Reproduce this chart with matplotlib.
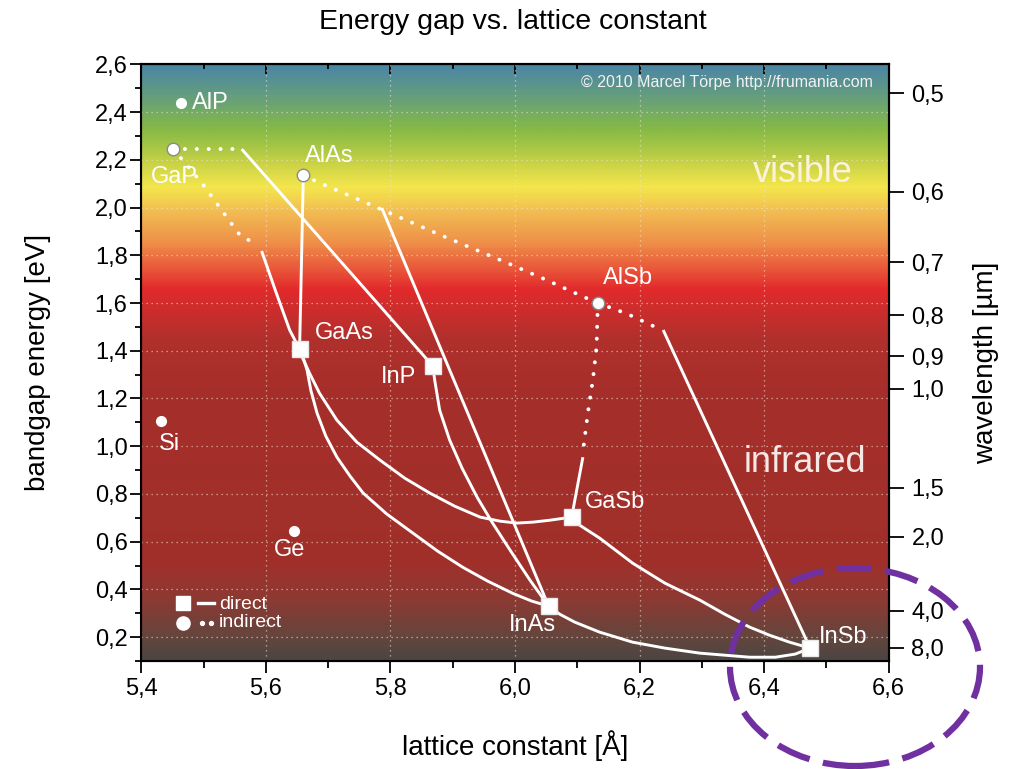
import numpy as np
import matplotlib
matplotlib.use("Agg")
import matplotlib.pyplot as plt
from matplotlib.colors import LinearSegmentedColormap
from matplotlib.patches import Ellipse
from matplotlib.ticker import FuncFormatter, MultipleLocator, NullFormatter

plt.rcParams['font.family'] = ['Liberation Sans', 'DejaVu Sans']

# binary compounds: lattice constant [A], band gap [eV]
names = ["AlP", "GaP", "AlAs", "GaAs", "InP", "AlSb", "GaSb", "InAs", "InSb", "Si", "Ge"]
a_const = [5.463, 5.451, 5.660, 5.654, 5.868, 6.133, 6.091, 6.054, 6.474, 5.431, 5.645]
e_gap = [2.44, 2.245, 2.136, 1.407, 1.336, 1.600, 0.703, 0.330, 0.154, 1.105, 0.644]
direct = [False, False, False, True, True, False, True, True, True, False, False]

# ternary alloys (solid = direct, dotted = indirect)
gainp_ind_x = [5.451, 5.555]
gainp_ind_y = [2.245, 2.245]
gainp_x = [5.561, 5.868]
gainp_y = [2.245, 1.336]

gaasp_ind_x = [5.451, 5.497, 5.558, 5.585]
gaasp_ind_y = [2.245, 2.103, 1.885, 1.845]
gaasp_x = [5.593, 5.616, 5.638, 5.654]
gaasp_y = [1.818, 1.646, 1.487, 1.407]

algaas_x = [5.660, 5.654]
algaas_y = [2.136, 1.407]

alassb_ind_x = [5.660, 5.683, 5.751, 5.884, 5.984, 6.051, 6.104, 6.133]
alassb_ind_y = [2.136, 2.107, 2.031, 1.881, 1.772, 1.696, 1.633, 1.600]

alinsb_ind_x = [6.133, 6.18, 6.225]
alinsb_ind_y = [1.600, 1.555, 1.500]
alinsb_x = [6.238, 6.474]
alinsb_y = [1.487, 0.154]

algasb_ind_x = [6.133, 6.131, 6.125, 6.117, 6.109]
algasb_ind_y = [1.600, 1.415, 1.277, 1.139, 0.975]
algasb_x = [6.109, 6.091]
algasb_y = [0.954, 0.703]

gaassb_x = [5.654, 5.659, 5.670, 5.686, 5.714, 5.746, 5.783, 5.823, 5.863, 5.903,
            5.944, 5.976, 6.003, 6.029, 6.056, 6.091]
gaassb_y = [1.407, 1.369, 1.306, 1.222, 1.109, 1.017, 0.942, 0.866, 0.804, 0.749,
            0.703, 0.686, 0.678, 0.682, 0.690, 0.703]

ingaas_x = [5.654, 5.661, 5.666, 5.672, 5.682, 5.696, 5.714, 5.735, 5.756, 5.794,
            5.836, 5.876, 5.916, 5.956, 5.996, 6.027, 6.054]
ingaas_y = [1.407, 1.361, 1.319, 1.235, 1.139, 1.043, 0.954, 0.875, 0.804, 0.716,
            0.636, 0.560, 0.493, 0.435, 0.384, 0.351, 0.330]

inasp_x = [5.868, 5.871, 5.879, 5.895, 5.915, 5.939, 5.963, 5.992, 6.024, 6.054]
inasp_y = [1.336, 1.277, 1.151, 1.026, 0.908, 0.787, 0.682, 0.565, 0.439, 0.330]

alinas_x = [5.786, 6.054]
alinas_y = [1.998, 0.330]

inassb_x = [6.054, 6.072, 6.096, 6.136, 6.189, 6.241, 6.297, 6.377, 6.418, 6.450, 6.474]
inassb_y = [0.330, 0.296, 0.263, 0.221, 0.179, 0.154, 0.133, 0.116, 0.116, 0.129, 0.154]

gainsb_x = [6.091, 6.104, 6.136, 6.189, 6.241, 6.297, 6.337, 6.377, 6.409, 6.441, 6.474]
gainsb_y = [0.703, 0.669, 0.615, 0.510, 0.426, 0.355, 0.296, 0.242, 0.208, 0.179, 0.154]

wl_ticks = [0.5, 0.6, 0.7, 0.8, 0.9, 1.0, 1.5, 2.0, 4.0, 8.0]

# background spectrum colours along the energy axis
bg_nodes = [
    (0.10, "#4b4643"), (0.20, "#66453d"), (0.35, "#8c3a33"), (0.50, "#a0302b"),
    (1.20, "#a52e2a"), (1.45, "#b0302c"), (1.58, "#cf2d2d"), (1.66, "#e2292b"),
    (1.74, "#e9553a"), (1.85, "#ee8d48"), (1.98, "#f2bb52"), (2.09, "#f4e64c"),
    (2.20, "#c4d045"), (2.33, "#86ba45"), (2.45, "#6aa276"), (2.60, "#4a85a6"),
]
cmap = LinearSegmentedColormap.from_list(
    "spec", [((e - 0.1) / 2.5, c) for e, c in bg_nodes])

fig = plt.figure(figsize=(10.17, 7.69), dpi=100)
ax = fig.add_axes([0.1391, 0.1404, 0.7346, 0.7759])

grad = np.linspace(0.1, 2.6, 500).reshape(-1, 1)
ax.imshow(grad, extent=[5.4, 6.6, 0.1, 2.6], origin="lower", aspect="auto",
          cmap=cmap, vmin=0.1, vmax=2.6, zorder=0)

ax.set_xlim(5.4, 6.6)
ax.set_ylim(0.1, 2.6)

for gx in np.arange(5.6, 6.5, 0.2):
    ax.axvline(gx, color="#f3e6d8", lw=0.9, ls=(0, (1, 3)), alpha=0.7, zorder=1)
for gy in np.arange(0.2, 2.5, 0.2):
    ax.axhline(gy, color="#f3e6d8", lw=0.9, ls=(0, (1, 3)), alpha=0.7, zorder=1)

solid = dict(color="white", lw=2.1, zorder=3, solid_capstyle="butt", solid_joinstyle="round")
dotted = dict(color="white", lw=2.8, ls=(0, (0.05, 3.0)), dash_capstyle="round", zorder=3)

for xs, ys in [(gainp_x, gainp_y), (gaasp_x, gaasp_y), (algaas_x, algaas_y),
               (alinsb_x, alinsb_y), (algasb_x, algasb_y), (gaassb_x, gaassb_y),
               (ingaas_x, ingaas_y), (inasp_x, inasp_y), (alinas_x, alinas_y),
               (inassb_x, inassb_y), (gainsb_x, gainsb_y)]:
    ax.plot(xs, ys, **solid)
for xs, ys in [(gainp_ind_x, gainp_ind_y), (gaasp_ind_x, gaasp_ind_y),
               (alassb_ind_x, alassb_ind_y), (alinsb_ind_x, alinsb_ind_y),
               (algasb_ind_x, algasb_ind_y)]:
    ax.plot(xs, ys, **dotted)

for n, x, y, d in zip(names, a_const, e_gap, direct):
    if d:
        ax.plot(x, y, marker="s", ms=11, color="white", mec="#e8e8e8", zorder=5)
    elif n in ("GaP", "AlAs", "AlSb"):
        ax.plot(x, y, marker="o", ms=9, color="white", mec="#8a8a8a", mew=1.0, zorder=5)
    else:
        ax.plot(x, y, marker="o", ms=7, color="white", zorder=5)

# label offsets (points) from each compound marker
label_off = {
    "AlP": (21, 0), "GaP": (1, -20), "AlAs": (19, 13.5), "GaAs": (32, 11.5),
    "InP": (-25, -8), "AlSb": (21.5, 18), "GaSb": (31.5, 11), "InAs": (-11.5, -13.5),
    "InSb": (24, 8), "Si": (6, -16.5), "Ge": (-3, -13.5),
}
for n, x, y in zip(names, a_const, e_gap):
    dx, dy = label_off[n]
    ax.annotate(n, (x, y), xytext=(dx, dy), textcoords="offset points",
                ha="center", va="center", color="white", fontsize=17, zorder=6)

ax.text(0.885, 0.819, "visible", transform=ax.transAxes, ha="center", va="center",
        color="#fbf3dc", fontsize=26)
ax.text(0.888, 0.332, "infrared", transform=ax.transAxes, ha="center", va="center",
        color="#f6e8e4", fontsize=26)
ax.text(0.979, 0.970, "\u00a9 2010 Marcel T\u00f6rpe http://frumania.com",
        transform=ax.transAxes, ha="right", va="center", color="#f2f2f2", fontsize=11.5)

# hand-made legend
ax.plot([0.0553], [0.0972], transform=ax.transAxes, marker="s", ms=10, color="white", zorder=6)
ax.plot([0.0754, 0.0968], [0.0972, 0.0972], transform=ax.transAxes, color="white", lw=2.4, zorder=6)
ax.plot([0.0553], [0.0637], transform=ax.transAxes, marker="o", ms=9.5, color="white", zorder=6)
ax.plot([0.0815, 0.0935], [0.0645, 0.0645], transform=ax.transAxes, color="white", lw=0,
        marker="o", ms=2.8, zorder=6)
ax.text(0.1035, 0.0955, "direct", transform=ax.transAxes, va="center", color="white", fontsize=14)
ax.text(0.1035, 0.0650, "indirect", transform=ax.transAxes, va="center", color="white", fontsize=14)

comma = FuncFormatter(lambda v, p: ("%.1f" % v).replace(".", ","))
ax.xaxis.set_major_locator(MultipleLocator(0.2))
ax.xaxis.set_minor_locator(MultipleLocator(0.1))
ax.yaxis.set_minor_locator(MultipleLocator(0.1))
ax.set_yticks(np.arange(0.2, 2.61, 0.2))
ax.xaxis.set_major_formatter(comma)
ax.yaxis.set_major_formatter(comma)
ax.tick_params(which="both", direction="out", top=False, right=False, labelsize=17, width=1.3)
ax.tick_params(axis="x", which="major", length=8.5, pad=4)
ax.tick_params(axis="x", which="minor", length=5)
ax.tick_params(axis="y", which="major", length=8, pad=2)
ax.tick_params(axis="y", which="minor", length=4.5)
for s in ax.spines.values():
    s.set_linewidth(1.5)

top = ax.secondary_xaxis("top")
top.xaxis.set_major_locator(MultipleLocator(0.2))
top.xaxis.set_minor_locator(MultipleLocator(0.1))
top.xaxis.set_major_formatter(NullFormatter())
top.tick_params(which="both", direction="in", width=1.3)
top.tick_params(which="major", length=7)
top.tick_params(which="minor", length=3.6)
top.spines["top"].set_linewidth(1.5)

ax2 = ax.twinx()
ax2.set_ylim(0.1, 2.6)
ax2.set_yticks([1.2398 / w for w in wl_ticks])
ax2.set_yticklabels([("%.1f" % w).replace(".", ",") for w in wl_ticks])
ax2.tick_params(direction="out", length=10.5, width=1.3, labelsize=17, pad=6)
ax2.spines["right"].set_linewidth(1.5)
ax2.set_ylabel("wavelength [\u00b5m]", fontsize=20, va="center")
ax2.yaxis.set_label_coords(1.1305, 0.5)

ax.set_xlabel("lattice constant [\u00c5]", fontsize=20, va="center")
ax.xaxis.set_label_coords(0.5, -0.142)
ax.set_ylabel("bandgap energy [eV]", fontsize=20, va="center")
ax.yaxis.set_label_coords(-0.1385, 0.5)
ax.text(0.4975, 1.071, "Energy gap vs. lattice constant", transform=ax.transAxes,
        ha="center", va="center", fontsize=20.5)

# purple dashed annotation ring
ring = Ellipse((855 / 1017, 1 - 667 / 769), 250 / 1017, 198 / 769, transform=fig.transFigure,
               fill=False, ec="#7030a0", lw=4.5, ls=(0, (5.5, 2.2)), zorder=20)
fig.patches.append(ring)

fig.savefig("out.png", dpi=100)
